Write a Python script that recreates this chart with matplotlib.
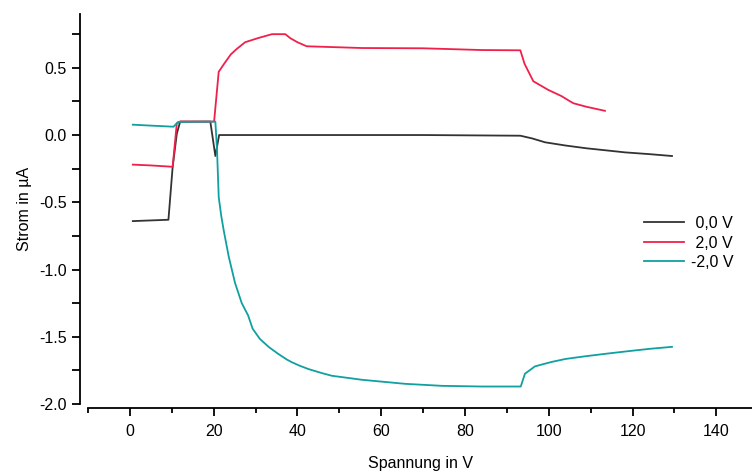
import numpy as np
import matplotlib
matplotlib.use('Agg')
import matplotlib.pyplot as plt
from matplotlib.ticker import MultipleLocator

plt.rcParams['font.family'] = ['Liberation Sans', 'DejaVu Sans']

# 0,0 V
v0_x = [0.7, 9.2, 10.2, 11.2, 12.0, 19.2, 20.4, 21.3, 30, 50, 70, 93.2,
        96, 99.1, 104, 109.1, 114, 118.2, 124, 129.4]
v0_y = [-0.64, -0.63, -0.24, 0.01, 0.10, 0.10, -0.156, 0.0, 0.0, 0.0, 0.0, -0.005,
        -0.025, -0.054, -0.078, -0.099, -0.115, -0.129, -0.142, -0.156]

# 2,0 V
p2_x = [0.7, 5, 10.2, 11.2, 12.0, 20.1, 21.2, 22.5, 24.1, 25.5, 27.5, 30.5, 33.9, 37.1,
        38.3, 40, 42.2, 55.4, 70, 84, 93.2, 94.2, 96.3, 99.9, 103, 105.1, 105.9, 109, 113.4]
p2_y = [-0.22, -0.226, -0.236, 0.087, 0.10, 0.10, 0.47, 0.53, 0.60, 0.64, 0.69, 0.72, 0.75, 0.75,
        0.72, 0.69, 0.66, 0.647, 0.645, 0.632, 0.630, 0.53, 0.40, 0.335, 0.29, 0.25, 0.236, 0.21, 0.18]

# -2,0 V
m2_x = [0.7, 5, 10.4, 11.5, 20.4, 20.8, 21.2, 21.8, 22.4, 23.6, 25.1, 26.7, 28.2, 29.3,
        31, 33.1, 35.3, 37.5, 38.7, 40.5, 42.6, 45.8, 48.2, 55.4, 65.7, 74.5, 84, 93.3,
        94.3, 96.7, 100.7, 104, 108.7, 114, 119, 124, 129.4]
m2_y = [0.077, 0.07, 0.062, 0.097, 0.10, -0.11, -0.46, -0.60, -0.71, -0.905, -1.10, -1.25, -1.34, -1.44,
        -1.515, -1.575, -1.625, -1.67, -1.69, -1.715, -1.74, -1.77, -1.79, -1.82, -1.85, -1.865, -1.87, -1.87,
        -1.775, -1.72, -1.687, -1.665, -1.645, -1.625, -1.607, -1.59, -1.575]

labels = [' 0,0 V', ' 2,0 V', '-2,0 V']
colors = ['#333333', '#f0204a', '#10a0a0']

fig = plt.figure(figsize=(7.52, 4.72), dpi=100)
ax = fig.add_axes([88/752, 68/472, 664/752, 390/472])

for xs, ys, lab, c in zip([v0_x, p2_x, m2_x], [v0_y, p2_y, m2_y], labels, colors):
    ax.plot(xs, ys, color=c, lw=1.3, label=lab)

ax.set_xlim(-10, 148.5)
ax.set_ylim(-2.0, 0.9)
ax.xaxis.set_major_locator(MultipleLocator(20))
ax.xaxis.set_minor_locator(MultipleLocator(10))
ax.yaxis.set_major_locator(MultipleLocator(0.5))
ax.yaxis.set_minor_locator(MultipleLocator(0.25))
ax.yaxis.set_major_formatter(matplotlib.ticker.FormatStrFormatter('%.1f'))

for s in ['top', 'right']:
    ax.spines[s].set_visible(False)
ax.spines['left'].set_position(('outward', 5.8))
ax.spines['bottom'].set_position(('outward', 2.9))
ax.spines['left'].set_linewidth(1.3)
ax.spines['bottom'].set_linewidth(1.3)

ax.tick_params(axis='both', which='major', direction='out', length=5.5, width=1.3,
               labelsize=11.5, pad=4)
ax.tick_params(axis='both', which='minor', direction='out', length=3.5, width=1.3)
ax.tick_params(axis='y', which='minor', length=5.5)
ax.tick_params(axis='x', which='major', pad=6)

ax.set_xlabel('Spannung in V', fontsize=11.5, labelpad=12)
ax.set_ylabel('Strom in µA', fontsize=11.5, labelpad=5)

ax.legend(loc='center left', bbox_to_anchor=(636/752, 1 - 243/472),
          bbox_transform=fig.transFigure, frameon=False, fontsize=11.5,
          handlelength=2.5, handletextpad=0.45, labelspacing=0.28, borderpad=0)

fig.savefig('out.png', dpi=100)
